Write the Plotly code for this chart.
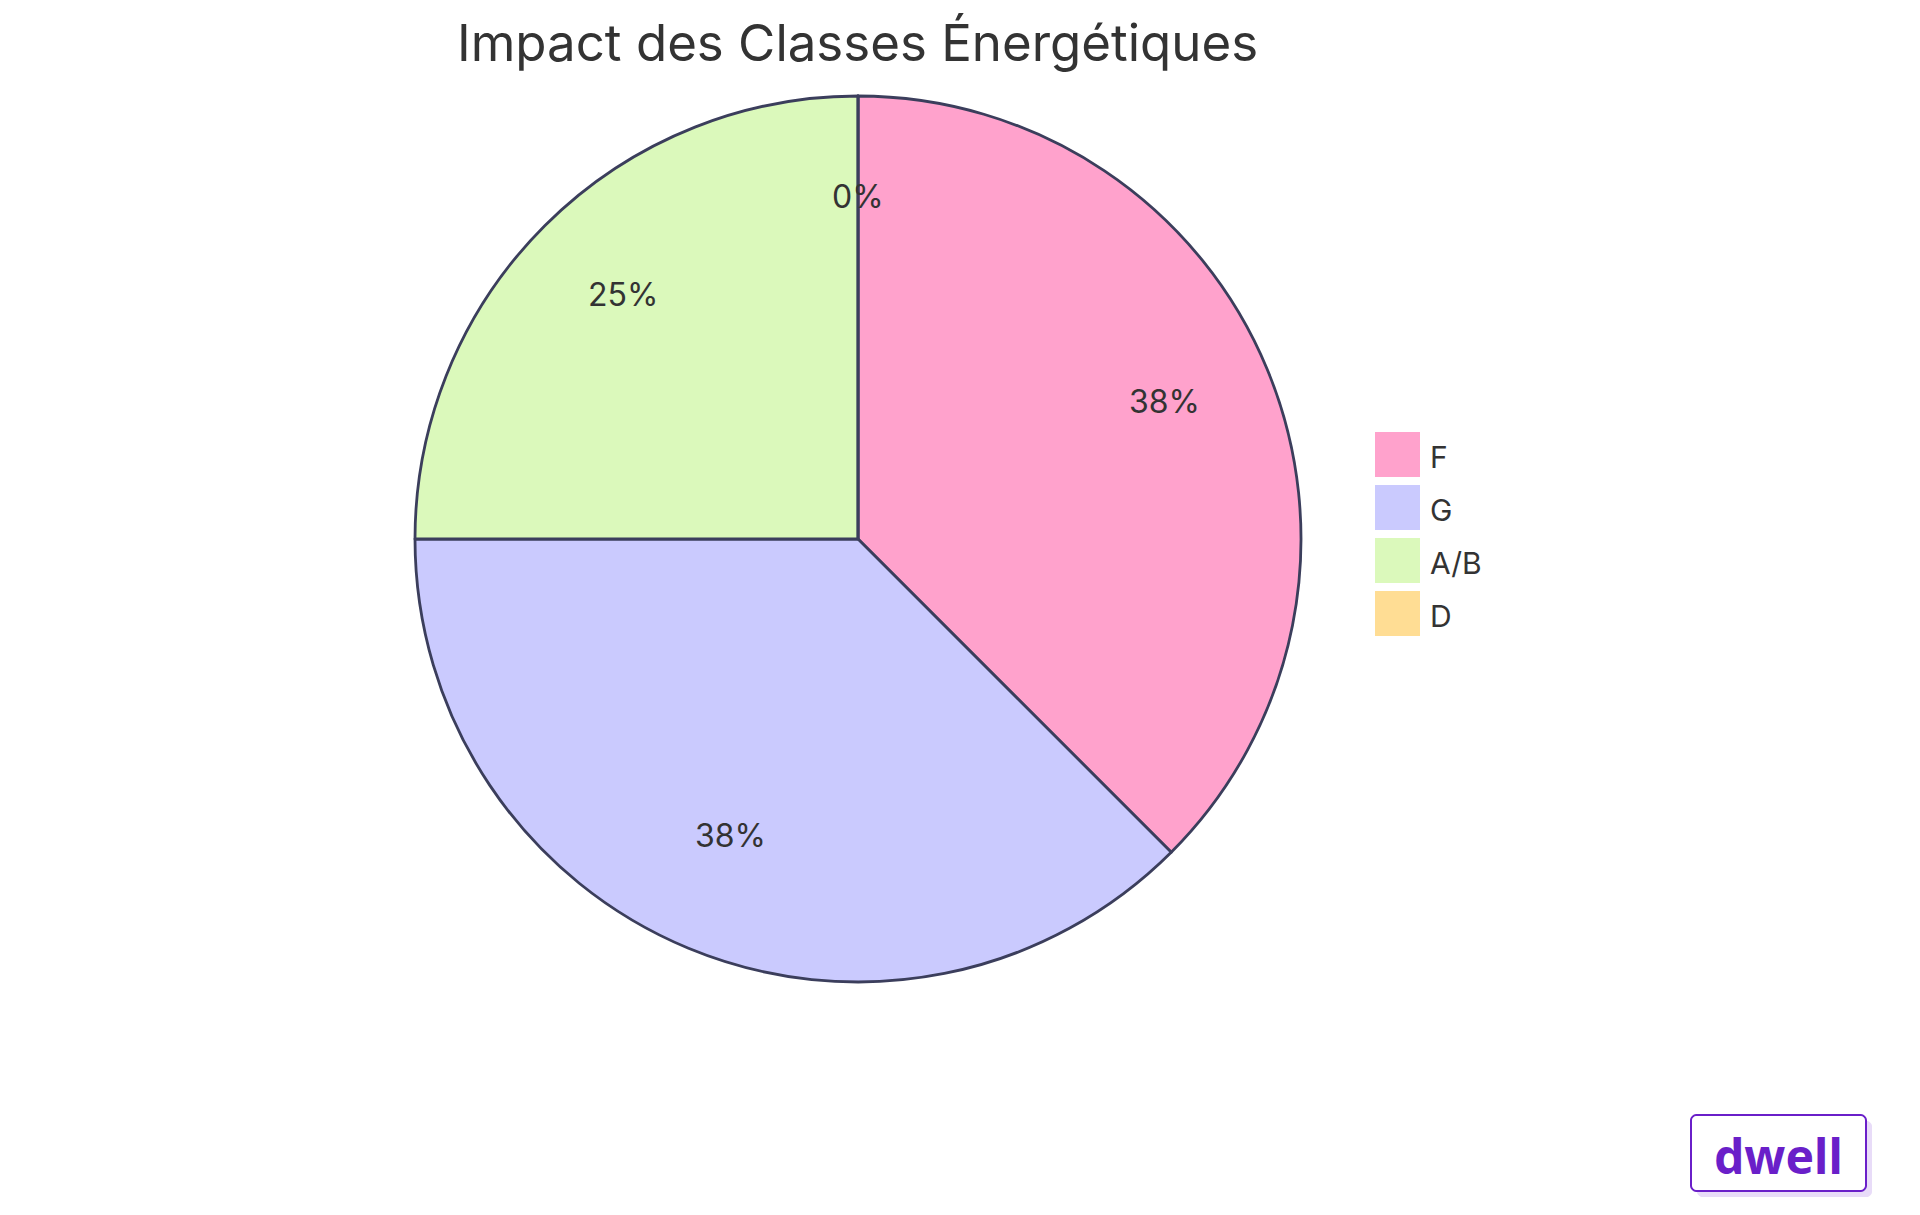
import numpy as np
import plotly.graph_objects as go

categories = ["F", "G", "A/B", "D"]
values = [3, 3, 2, 0]
colors = ["#FFA2CC", "#CACAFE", "#DBF9BB", "#FFDD94"]
title_text = "Impact des Classes Énergétiques"
logo_text = "dwell"

W, H = 1920, 1215
OFF = 8  # page body margin


def X(px):
    return (px - OFF) / W


def Y(py):
    return 1 - (py - OFF) / H


cx, cy, R = 858, 539, 443  # pixel geometry of pie (page coords)

fig = go.Figure()
fig.add_trace(go.Pie(
    labels=categories, values=values, sort=False, direction="clockwise", rotation=0,
    marker=dict(colors=colors, line=dict(color="#3B3E5C", width=2.8)),
    textinfo="none", hoverinfo="label+percent", showlegend=False,
    domain=dict(x=[X(cx - R), X(cx + R)], y=[Y(cy + R), Y(cy - R)]),
))

annotations = []
shapes = []
vals = np.array(values, dtype=float)
total = vals.sum()
cum = np.concatenate([[0], np.cumsum(vals)])
for i, v in enumerate(vals):
    mid = (cum[i] + cum[i + 1]) / 2 / total * 2 * np.pi
    px = cx + 0.75 * R * np.sin(mid)
    py = cy - 0.75 * R * np.cos(mid)
    annotations.append(dict(
        x=X(px), y=Y(py - 10), xref="paper", yref="paper", showarrow=False,
        text=f"{round(v / total * 100):.0f}%", font=dict(size=32, color="#333333", family="Inter"),
        xanchor="center", yanchor="middle",
    ))

# legend
lx, ly0, step, sq = 1375, 432, 53, 45
for i, (c, col) in enumerate(zip(categories, colors)):
    y0 = ly0 + i * step
    shapes.append(dict(type="rect", xref="paper", yref="paper",
                       x0=X(lx), x1=X(lx + sq), y0=Y(y0), y1=Y(y0 + sq),
                       fillcolor=col, line=dict(width=0)))
    annotations.append(dict(x=X(lx + sq + 8), y=Y(y0 + sq / 2 + 2), xref="paper", yref="paper",
                            showarrow=False, text=c, xanchor="left", yanchor="middle",
                            font=dict(size=30, color="#333333", family="Inter")))

# title
annotations.append(dict(x=X(857), y=Y(42), xref="paper", yref="paper", showarrow=False,
                        text=title_text, xanchor="center", yanchor="middle",
                        font=dict(size=51, color="#333333", family="Inter")))


def rrect(x0, y0, x1, y1, r):
    k = 0.45 * r
    return (f"M{X(x0 + r)},{Y(y0)} L{X(x1 - r)},{Y(y0)} "
            f"C{X(x1 - r + k)},{Y(y0)} {X(x1)},{Y(y0 + r - k)} {X(x1)},{Y(y0 + r)} "
            f"L{X(x1)},{Y(y1 - r)} "
            f"C{X(x1)},{Y(y1 - r + k)} {X(x1 - r + k)},{Y(y1)} {X(x1 - r)},{Y(y1)} "
            f"L{X(x0 + r)},{Y(y1)} "
            f"C{X(x0 + r - k)},{Y(y1)} {X(x0)},{Y(y1 - r + k)} {X(x0)},{Y(y1 - r)} "
            f"L{X(x0)},{Y(y0 + r)} "
            f"C{X(x0)},{Y(y0 + r - k)} {X(x0 + r - k)},{Y(y0)} {X(x0 + r)},{Y(y0)} Z")


# logo
bx0, bx1, by0, by1 = 1691, 1866, 1115, 1191
shapes.append(dict(type="path", xref="paper", yref="paper",
                   path=rrect(bx0 + 6, by0 + 6, bx1 + 6, by1 + 6, 5),
                   fillcolor="#E8DCF8", line=dict(width=0)))
shapes.append(dict(type="path", xref="paper", yref="paper",
                   path=rrect(bx0, by0, bx1, by1, 5),
                   fillcolor="white", line=dict(color="#6A1FC9", width=2)))
annotations.append(dict(x=X((bx0 + bx1) / 2), y=Y((by0 + by1) / 2 + 2), xref="paper", yref="paper",
                        showarrow=False, text=f"<b>{logo_text}</b>", xanchor="center", yanchor="middle",
                        font=dict(size=48, color="#6A1FC9", family="Noto Sans")))

fig.update_layout(
    width=W, height=H, margin=dict(l=0, r=0, t=0, b=0),
    paper_bgcolor="white", plot_bgcolor="white",
    annotations=annotations, shapes=shapes, showlegend=False,
)
fig.write_html("out.html")
